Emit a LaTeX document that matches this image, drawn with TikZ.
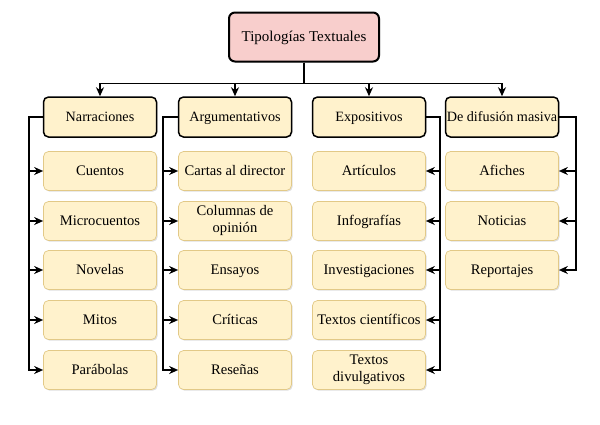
\documentclass[tikz,border=0pt]{standalone}
\usepackage{fontspec}
\setmainfont{Liberation Serif}
\usetikzlibrary{arrows.meta,shadows}
\definecolor{rootfill}{HTML}{F8CECC}
\definecolor{boxfill}{HTML}{FFF2CC}
\definecolor{boxline}{HTML}{E2C987}
\newcommand{\capstrut}{\rule[-0.24em]{0pt}{1.14em}}
\begin{document}
\begin{tikzpicture}[x=1pt,y=-1pt]
\tikzstyle{root}=[draw=black,line width=2pt,fill=rootfill,rounded corners=6pt,minimum width=150pt,minimum height=49pt,font=\fontsize{15}{16}\selectfont,execute at begin node={\capstrut},drop shadow={opacity=0.2,shadow xshift=1pt,shadow yshift=-1pt}]
\tikzstyle{cat}=[draw=black,line width=1.5pt,fill=boxfill,rounded corners=5pt,minimum width=113pt,minimum height=40pt,inner xsep=0pt,font=\fontsize{14.2}{16}\selectfont,execute at begin node={\capstrut},drop shadow={opacity=0.2,shadow xshift=1pt,shadow yshift=-1pt}]
\tikzstyle{item}=[draw=boxline,line width=0.7pt,fill=boxfill,rounded corners=5pt,minimum width=113pt,minimum height=39pt,inner xsep=0pt,align=center,font=\fontsize{14.6}{16.8}\selectfont,execute at begin node={\capstrut},drop shadow={opacity=0.25,shadow xshift=1.2pt,shadow yshift=-1.2pt}]
\tikzstyle{arr}=[line width=1.8pt,-{Stealth[length=9pt,width=8pt]}]
\useasboundingbox (0,0) rectangle (600,424);
% root
\node[root] (root) at (304,37) {Tipologías Textuales};
% categories
\node[cat] (cat_1) at (100,117) {Narraciones};
\node[cat] (cat_2) at (235,117) {Argumentativos};
\node[cat] (cat_3) at (369,117) {Expositivos};
\node[cat] (cat_4) at (502,117) {De difusión masiva};
% Narraciones
\node[item] (N_1) at (100,171) {Cuentos};
\node[item] (N_2) at (100,221) {Microcuentos};
\node[item] (N_3) at (100,270) {Novelas};
\node[item] (N_4) at (100,320) {Mitos};
\node[item] (N_5) at (100,370) {Parábolas};
% Argumentativos
\node[item] (A_1) at (235,171) {Cartas al director};
\node[item] (A_2) at (235,221) {Columnas de\\opinión};
\node[item] (A_3) at (235,270) {Ensayos};
\node[item] (A_4) at (235,320) {Críticas};
\node[item] (A_5) at (235,370) {Reseñas};
% Expositivos
\node[item] (E_1) at (369,171) {Artículos};
\node[item] (E_2) at (369,221) {Infografías};
\node[item] (E_3) at (369,270) {Investigaciones};
\node[item] (E_4) at (369,320) {Textos científicos};
\node[item] (E_5) at (369,370) {Textos\\divulgativos};
% De difusion masiva
\node[item] (D_1) at (502,171) {Afiches};
\node[item] (D_2) at (502,221) {Noticias};
\node[item] (D_3) at (502,270) {Reportajes};
% bends
\coordinate (bus_1) at (29,117);
\coordinate (bus_2) at (163,117);
\coordinate (bus_3) at (440,117);
\coordinate (bus_4) at (576,117);
% root to categories
\draw[arr] (root.south) -- ++(0,21) -| (cat_1.north);
\draw[arr] (root.south) -- ++(0,21) -| (cat_2.north);
\draw[arr] (root.south) -- ++(0,21) -| (cat_3.north);
\draw[arr] (root.south) -- ++(0,21) -| (cat_4.north);
% categories to items
\foreach \i in {1,...,5} {
\draw[arr] (cat_1.west) -- (bus_1) |- (N_\i.west);
\draw[arr] (cat_2.west) -- (bus_2) |- (A_\i.west);
\draw[arr] (cat_3.east) -- (bus_3) |- (E_\i.east);
}
\foreach \i in {1,2,3} {
\draw[arr] (cat_4.east) -- (bus_4) |- (D_\i.east);
}
\end{tikzpicture}
\end{document}
